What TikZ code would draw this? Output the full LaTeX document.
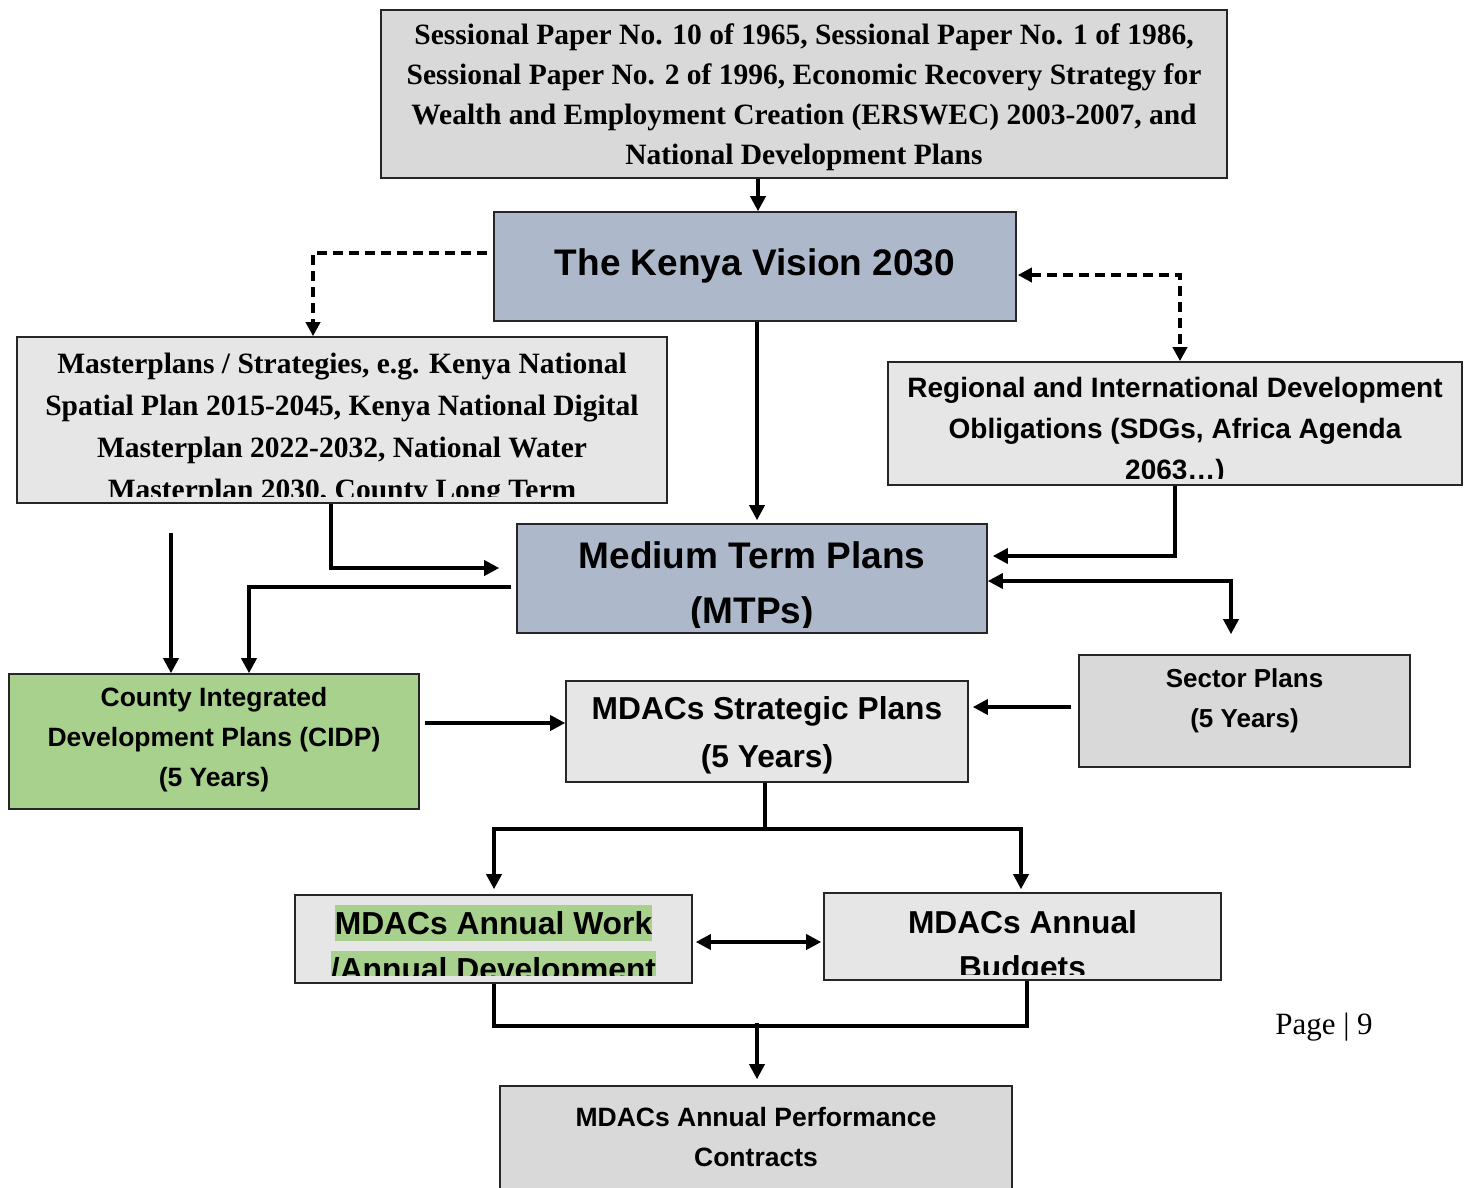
\documentclass[tikz,border=0pt]{standalone}
\usepackage{fontspec}
\setmainfont{Liberation Serif}
\newfontfamily\arialf{Liberation Sans}
\usetikzlibrary{arrows.meta,calc}
\definecolor{greyA}{HTML}{D9D9D9}
\definecolor{greyB}{HTML}{E7E6E6}
\definecolor{blueg}{HTML}{ADB9CA}
\definecolor{greenc}{HTML}{A9D18E}
\definecolor{edge}{HTML}{262626}
\newcommand\hlgr[1]{{\setlength\fboxsep{0pt}\colorbox{greenc}{\rule[-0.18em]{0pt}{1.13em}#1}}}
\tikzset{
  box/.style={draw=edge,line width=1.6pt,inner sep=0pt,rectangle},
  serift/.style={inner sep=0pt,align=center,font=\bfseries\fontsize{29.5}{40}\selectfont},
  sanst/.style={inner sep=0pt,align=center,font=\arialf\bfseries},
  conn/.style={line width=3.5pt,draw=black},
  arr/.style={conn,-{Triangle[length=15pt,width=15pt]}},
  arrtwo/.style={conn,{Triangle[length=15pt,width=15pt]}-{Triangle[length=15pt,width=15pt]}},
  dasharr/.style={line width=3.8pt,dash pattern=on 10pt off 6pt,-{Triangle[length=14pt,width=14pt]}},
  dasharrtwo/.style={line width=3.8pt,dash pattern=on 10pt off 6pt,{Triangle[length=14pt,width=14pt]}-{Triangle[length=14pt,width=14pt]}}
}
\begin{document}
\begin{tikzpicture}[x=1pt,y=-1pt]
\clip (0,0) rectangle (1468,1187);
\fill[white] (0,0) rectangle (1468,1187);

% boxes
\node[box,fill=greyA,minimum width=846pt,minimum height=168pt] (top) at (804,94) {};
\node[box,fill=blueg,minimum width=522pt,minimum height=109pt] (vision) at (755,266.5) {};
\node[box,fill=greyB,minimum width=650pt,minimum height=166pt] (master) at (342,420) {};
\node[box,fill=greyB,minimum width=574pt,minimum height=123pt] (regional) at (1175,423.5) {};
\node[box,fill=blueg,minimum width=470pt,minimum height=109pt] (mtp) at (752,578.5) {};
\node[box,fill=greenc,minimum width=410pt,minimum height=135pt] (cidp) at (214,741.5) {};
\node[box,fill=greyA,minimum width=331pt,minimum height=112pt] (sector) at (1244.5,711) {};
\node[box,fill=greyB,minimum width=402pt,minimum height=101pt] (strat) at (767,731.5) {};
\node[box,fill=greyB,minimum width=397pt,minimum height=88pt] (work) at (493.5,939) {};
\node[box,fill=greyB,minimum width=397pt,minimum height=87pt] (budget) at (1022.5,936.5) {};
\node[box,fill=greyA,minimum width=512pt,minimum height=130pt] (perf) at (756,1151) {};

% texts
\node[serift] (topT) at (804,97) {Sessional Paper No. 10 of 1965, Sessional Paper No. 1 of 1986,\\Sessional Paper No. 2 of 1996, Economic Recovery Strategy for\\Wealth and Employment Creation (ERSWEC) 2003-2007, and\\National Development Plans};
\node[sanst,font=\arialf\bfseries\fontsize{37}{55}\selectfont] (visionT) at (755,266) {The Kenya Vision 2030};
\begin{scope}
\clip (master.north west) rectangle ([yshift=7pt]master.south east);
\node[serift,font=\bfseries\fontsize{29.5}{42}\selectfont] (masterT) at (342,430) {Masterplans / Strategies, e.g. Kenya National\\Spatial Plan 2015-2045, Kenya National Digital\\Masterplan 2022-2032, National Water\\Masterplan 2030, County Long Term};
\end{scope}
\begin{scope}
\clip (regional.north west) rectangle ([yshift=7pt]regional.south east);
\node[sanst,font=\arialf\bfseries\fontsize{28}{41}\selectfont] (regionalT) at (1175,431) {Regional and International Development\\Obligations (SDGs, Africa Agenda\\2063…)};
\end{scope}
\begin{scope}
\clip (mtp.north west) rectangle ([yshift=6pt]mtp.south east);
\node[sanst,font=\arialf\bfseries\fontsize{37}{55}\selectfont] (mtpT) at (752,586) {Medium Term Plans\\(MTPs)};
\end{scope}
\node[sanst,font=\arialf\bfseries\fontsize{26.5}{40}\selectfont] (cidpT) at (214,740) {County Integrated\\Development Plans (CIDP)\\(5 Years)};
\node[sanst,font=\arialf\bfseries\fontsize{26}{40}\selectfont] (sectorT) at (1244.5,701) {Sector Plans\\(5 Years)};
\node[sanst,font=\arialf\bfseries\fontsize{31.7}{48}\selectfont] (stratT) at (767,735) {MDACs Strategic Plans\\(5 Years)};
\begin{scope}
\clip (work.north west) rectangle ([yshift=8pt]work.south east);
\node[sanst,font=\arialf\bfseries\fontsize{31.8}{46}\selectfont] (workT) at (493.5,946) {\hlgr{MDACs Annual Work}\\\hlgr{/Annual Development}};
\end{scope}
\begin{scope}
\clip (budget.north west) rectangle ([yshift=6pt]budget.south east);
\node[sanst,font=\arialf\bfseries\fontsize{31.7}{45}\selectfont] (budgetT) at (1022.5,947.5) {MDACs Annual\\Budgets};
\end{scope}
\node[sanst,font=\arialf\bfseries\fontsize{26.5}{40}\selectfont] (perfT) at (756,1137) {MDACs Annual Performance\\Contracts};
\node[inner sep=0pt,font=\fontsize{31}{36}\selectfont] (page) at (1324,1027) {Page | 9};

% connectors
\draw[arr] ([xshift=3pt]vision.north |- top.south) -- ([xshift=3pt]vision.north);
\draw[dasharr] ([xshift=-6pt,yshift=13.5pt]vision.west) -| ([xshift=-29pt]master.north);
\draw[dasharrtwo] ([xshift=1pt,yshift=-8.5pt]vision.east) -| ([xshift=5pt]regional.north);
\draw[arr,shorten >=3pt] ([xshift=2pt]vision.south) -- ([xshift=2pt]vision.south |- mtp.north);
\draw[arr,shorten >=17pt] ([xshift=-11pt]master.south) |- ([yshift=10.5pt]mtp.west);
\draw[conn,-{Triangle[length=15pt,width=15pt]}] ([xshift=-5pt,yshift=-8.5pt]mtp.west) -| ([xshift=35pt]cidp.north);
\coordinate (free) at (171,533);
\draw[arr] (free) -- (free |- cidp.north);
\draw[arr,shorten >=5pt] (regional.south) |- ([yshift=22.5pt]mtp.east);
\draw[arrtwo] ([yshift=-2.5pt]mtp.east) -| ([xshift=-13.5pt,yshift=20pt]sector.north);
\draw[arr] ([xshift=5pt,yshift=18.5pt]cidp.east) -- ([yshift=18.5pt]cidp.east -| strat.west);
\draw[arr,shorten >=4pt] ([xshift=-7pt,yshift=4pt]sector.west) -- ([yshift=4pt]sector.west -| strat.east);
\draw[conn] ([xshift=-2pt]strat.south) -- ++(0,46) coordinate (split);
\draw[arr,shorten >=5pt] ([xshift=-271pt]split) -| ([xshift=0.5pt]work.north);
\draw[conn] ([xshift=-273pt]split) -- ([xshift=1.5pt]split);
\draw[arr,shorten >=3pt] (split) -| ([xshift=-1.5pt]budget.north);
\draw[arrtwo,shorten <=3pt,shorten >=2pt] ([yshift=-3pt]work.east) -- ([yshift=-3pt]work.east -| budget.west);
\draw[conn] ([xshift=0.5pt]work.south) -- ++(0,42) coordinate (merge) -| ([xshift=4.5pt]budget.south);
\draw[arr,shorten >=6pt] ([xshift=1pt,yshift=3pt]merge -| perf.north) -- ([xshift=1pt]perf.north);
\end{tikzpicture}
\end{document}
